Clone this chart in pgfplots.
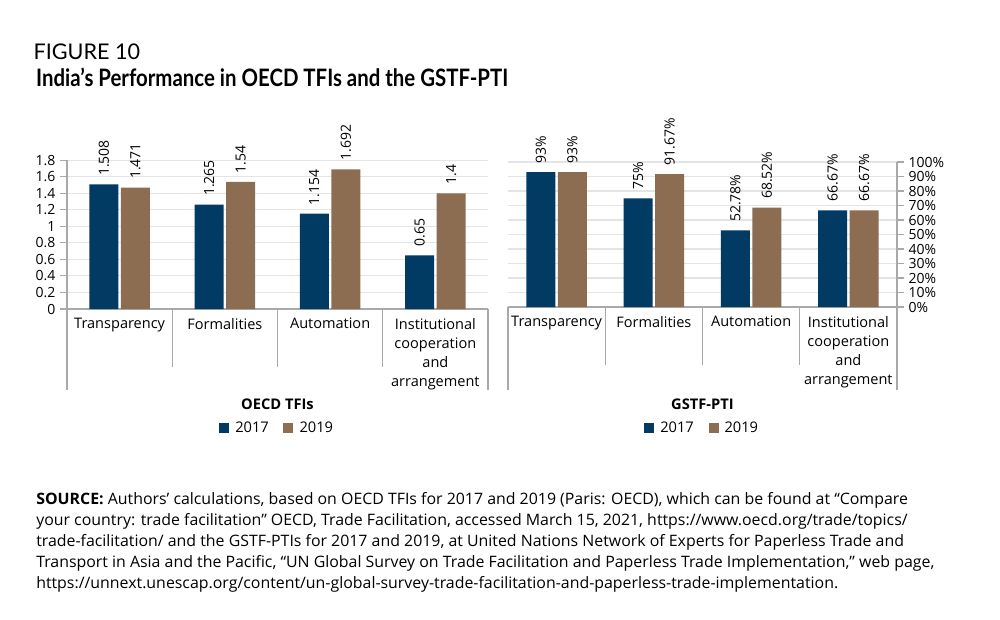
\documentclass[border=0pt]{standalone}
\usepackage{fontspec}
\setmainfont{Open Sans}
\newfontfamily\latofont{Lato}
\usepackage{pgfplots}
\pgfplotsset{compat=1.18}
\definecolor{cblue}{HTML}{013A63}
\definecolor{cbrown}{HTML}{8D6D51}
\definecolor{cgrid}{HTML}{E4E4E4}
\definecolor{caxis}{HTML}{A9A9A9}
\pgfplotsset{
  common/.style={
    anchor=south west, scale only axis, clip=false,
    ybar, bar width=21.75pt,
    xmin=-0.5, xmax=3.5, ymin=0,
    enlargelimits=false,
    xtick={0,1,2,3},
    xticklabels={Transparency,Formalities,Automation,{Institutional\\cooperation\\and\\arrangement}},
    xtick style={draw=none},
    xticklabel style={font=\fontsize{10.9}{14.25}\selectfont, align=center, anchor=north, yshift=2pt},
    yticklabel style={font=\fontsize{10.5}{12}\selectfont},
    /pgf/number format/assume math mode=true,
    ymajorgrids, grid style={cgrid, line width=0.8pt},
    axis line style={caxis, line width=0.8pt},
    ytick style={caxis, line width=0.8pt},
    major tick length=5.25pt, tick align=outside,
    axis x line*=bottom,
    point meta=explicit symbolic,
    nodes near coords,
    every node near coord/.append style={rotate=90, anchor=west, inner xsep=6.3pt, inner ysep=1pt, font=\fontsize{10.5}{12}\selectfont, black},
    legend columns=2,
    legend image code/.code={\fill[#1] (0pt,-3.75pt) rectangle (7.5pt,3.75pt); \path (10pt,0pt);},
    legend style={draw=none, fill=none, font=\fontsize{11}{12}\selectfont,
      /tikz/every even column/.append style={column sep=9pt}},
  }
}
\begin{document}
\begin{tikzpicture}
\useasboundingbox (0,0) rectangle (750pt,-465pt);
\fill[white] (0,0) rectangle (750pt,-465pt);
% header
\node[anchor=base west, inner sep=0, font=\latofont\fontsize{16.2}{18}\selectfont] at (25pt,-44.5pt) {FIGURE 10};
\node[anchor=base west, inner sep=0, xscale=0.85, font=\latofont\bfseries\fontsize{18}{20}\selectfont] at (27pt,-65pt) {India’s Performance in OECD TFIs and the GSTF-PTI};
% source
\node[anchor=base west, inner sep=0, align=left, xscale=1.01, font=\fontsize{11.8}{15.75}\selectfont] at (27pt,-441pt) {\textbf{SOURCE:} Authors’ calculations, based on OECD TFIs for 2017 and 2019 (Paris: OECD), which can be found at “Compare\\
your country: trade facilitation” OECD, Trade Facilitation, accessed March 15, 2021, https://www.oecd.org/trade/topics/\\
trade-facilitation/ and the GSTF-PTIs for 2017 and 2019, at United Nations Network of Experts for Paperless Trade and\\
Transport in Asia and the Pacific, “UN Global Survey on Trade Facilitation and Paperless Trade Implementation,” web page,\\
https://unnext.unescap.org/content/un-global-survey-trade-facilitation-and-paperless-trade-implementation.};

% left axis
\begin{axis}[common,
  at={(50.25pt,-231.75pt)}, width=315.75pt, height=111.5pt,
  ymax=1.8,
  ytick={0,0.2,0.4,0.6,0.8,1,1.2,1.4,1.6,1.8},
  yticklabels={0,0.2,0.4,0.6,0.8,1,1.2,1.4,1.6,1.8},
  axis y line*=left,
  legend style={at={(axis description cs:0.5,-0.80)}, anchor=center},
]
\addplot[fill=cblue, draw=none] coordinates {(0,1.508) [1.508] (1,1.265) [1.265] (2,1.154) [1.154] (3,0.65) [0.65]};
\addplot[fill=cbrown, draw=none] coordinates {(0,1.471) [1.471] (1,1.54) [1.54] (2,1.692) [1.692] (3,1.4) [1.4]};
\legend{2017,2019}
\draw[caxis, line width=0.8pt] (axis cs:-0.5,0) -- ++(0pt,-60.75pt);
\draw[caxis, line width=0.8pt] (axis cs:0.5,0) -- ++(0pt,-43.5pt);
\draw[caxis, line width=0.8pt] (axis cs:1.5,0) -- ++(0pt,-43.5pt);
\draw[caxis, line width=0.8pt] (axis cs:2.5,0) -- ++(0pt,-43.5pt);
\draw[caxis, line width=0.8pt] (axis cs:3.5,0) -- ++(0pt,-60.75pt);
\node[font=\bfseries\fontsize{11}{12}\selectfont] at (axis description cs:0.5,-0.639) {OECD TFIs};
\end{axis}

% right axis
\begin{axis}[common,
  at={(381pt,-230.25pt)}, width=291.75pt, height=108.75pt,
  ymax=100,
  ytick={0,10,20,30,40,50,60,70,80,90,100},
  yticklabels={0\%,10\%,20\%,30\%,40\%,50\%,60\%,70\%,80\%,90\%,100\%},
  axis y line*=right,
  legend style={at={(axis description cs:0.5,-0.833)}, anchor=center},
]
\addplot[fill=cblue, draw=none] coordinates {(0,93) [93\%] (1,75) [75\%] (2,52.78) [52.78\%] (3,66.67) [66.67\%]};
\addplot[fill=cbrown, draw=none] coordinates {(0,93) [93\%] (1,91.67) [91.67\%] (2,68.52) [68.52\%] (3,66.67) [66.67\%]};
\legend{2017,2019}
\draw[caxis, line width=0.8pt] (axis cs:-0.5,0) -- ++(0pt,-62.25pt);
\draw[caxis, line width=0.8pt] (axis cs:0.5,0) -- ++(0pt,-43.5pt);
\draw[caxis, line width=0.8pt] (axis cs:1.5,0) -- ++(0pt,-43.5pt);
\draw[caxis, line width=0.8pt] (axis cs:2.5,0) -- ++(0pt,-43.5pt);
\draw[caxis, line width=0.8pt] (axis cs:3.5,0) -- ++(0pt,-62.25pt);
\node[font=\bfseries\fontsize{11}{12}\selectfont] at (axis description cs:0.5,-0.669) {GSTF-PTI};
\end{axis}
\end{tikzpicture}
\end{document}
